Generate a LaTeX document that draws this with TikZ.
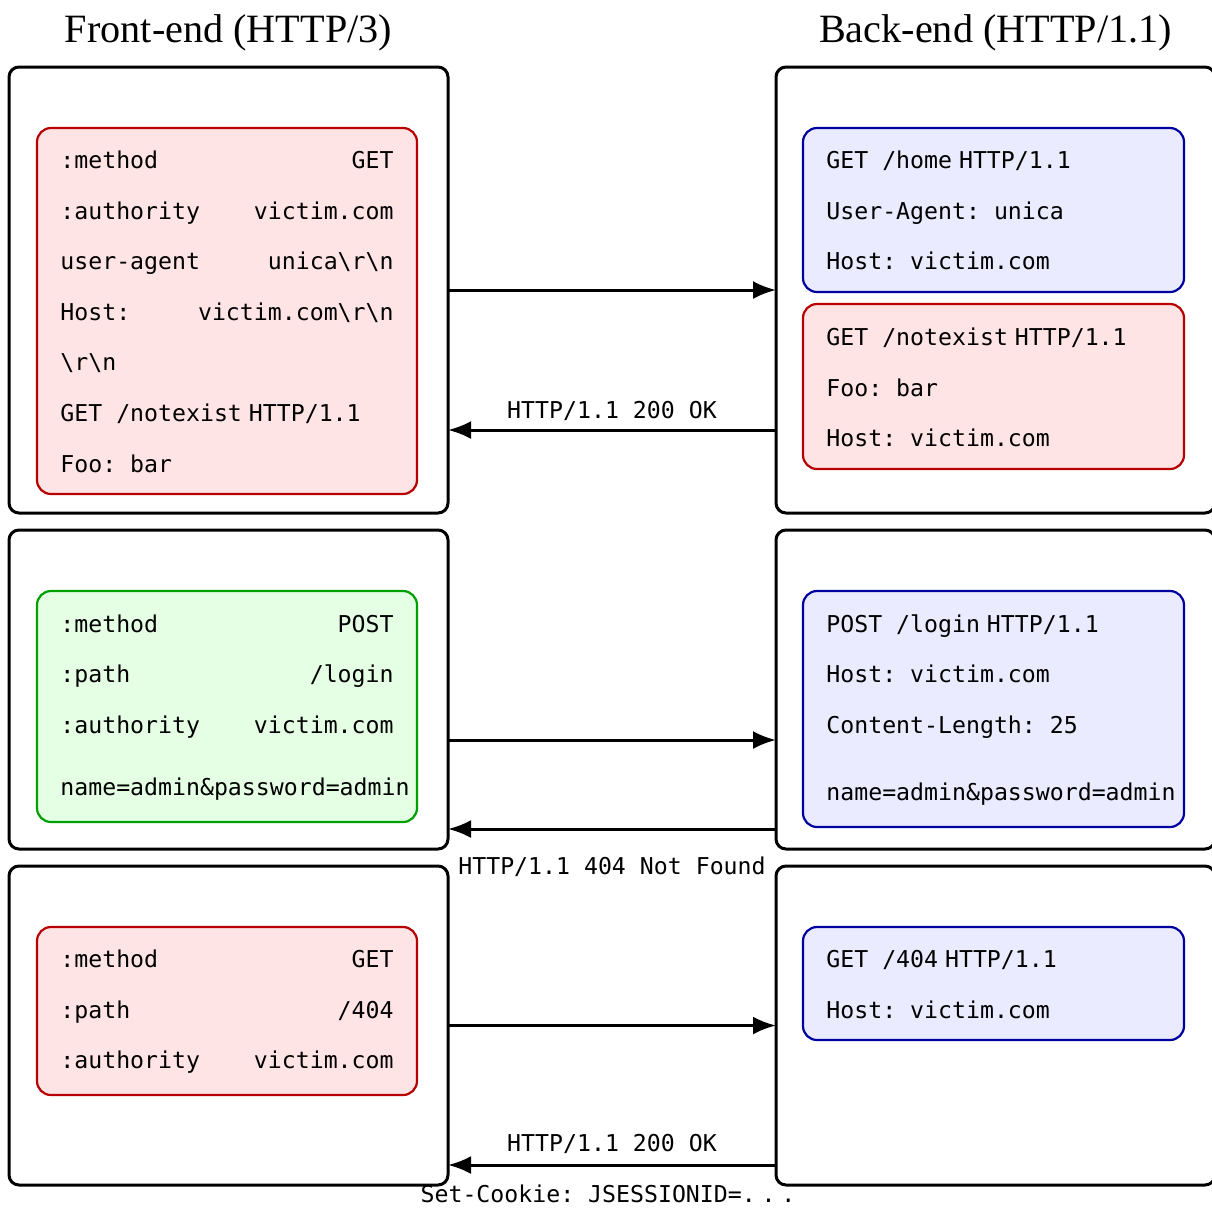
\documentclass[tikz,border=0pt]{standalone}
\usepackage{fontspec}
\setmainfont{Liberation Serif}
\setmonofont{DejaVu Sans Mono}
\usetikzlibrary{arrows.meta}

\definecolor{redfill}{RGB}{255,228,230}
\definecolor{reddraw}{RGB}{185,0,0}
\definecolor{bluefill}{RGB}{235,235,255}
\definecolor{bluedraw}{RGB}{0,0,160}
\definecolor{greenfill}{RGB}{229,255,229}
\definecolor{greendraw}{RGB}{0,160,0}

% narrow gap used before the protocol version in request lines
\newcommand\vgap{\hspace{0.3em}}
\newcommand\bs{\textbackslash}

\begin{document}
\begin{tikzpicture}[x=0.5pt,y=-0.5pt,
  panel/.style={draw=black,line width=1.5pt,rounded corners=5pt,
    minimum width=219.5pt,inner sep=0pt,outer sep=0pt},
  msg/.style={line width=1.1pt,rounded corners=7pt,inner sep=0pt,outer sep=0pt},
  redmsg/.style={msg,draw=reddraw,fill=redfill},
  bluemsg/.style={msg,draw=bluedraw,fill=bluefill},
  greenmsg/.style={msg,draw=greendraw,fill=greenfill},
  hdr/.style={font=\fontsize{20.1}{24}\selectfont,anchor=base,inner sep=0pt},
  code/.style={font=\fontsize{11.6}{14}\ttfamily,inner sep=0pt},
  lcode/.style={code,anchor=base west},
  rcode/.style={code,anchor=base east},
  mcode/.style={code,anchor=base},
  flow/.style={line width=1.5pt,-{Latex[length=11.5pt,width=9pt]}},
]
\useasboundingbox (0,0) rectangle (1212,1207);

% column headings
\node[hdr] (hfe) at (228.5,42) {Front-end (HTTP/3)};
\node[hdr] (hbe) at (995.5,42) {Back-end (HTTP/1.1)};

% panels
\node[panel,minimum height=223pt]   (fe1) at (228.5,290) {};
\node[panel,minimum height=223pt]   (be1) at (995.5,290) {};
\node[panel,minimum height=159.5pt] (fe2) at (228.5,689.5) {};
\node[panel,minimum height=159.5pt] (be2) at (995.5,689.5) {};
\node[panel,minimum height=159.5pt] (fe3) at (228.5,1025.5) {};
\node[panel,minimum height=159.5pt] (be3) at (995.5,1025.5) {};

% messages, first exchange
\node[redmsg,minimum width=190pt,minimum height=183pt] (m1) at (227,311) {};
\node[lcode] (m1a) at (60,168) {:method};
\node[rcode] (m1b) at (394,168) {GET};
\node[lcode] (m1c) at (60,219) {:authority};
\node[rcode] (m1d) at (394,219) {victim.com};
\node[lcode] (m1e) at (60,269) {user-agent};
\node[rcode] (m1f) at (394,269) {unica\bs r\bs n};
\node[lcode] (m1g) at (60,320) {Host:};
\node[rcode] (m1h) at (394,320) {victim.com\bs r\bs n};
\node[lcode] (m1i) at (60,370) {\bs r\bs n};
\node[lcode] (m1j) at (60,421) {GET /notexist\vgap HTTP/1.1};
\node[lcode] (m1k) at (60,472) {Foo: bar};

\node[bluemsg,minimum width=190.5pt,minimum height=82pt] (b1) at (993.5,210) {};
\node[lcode] (b1a) at (826,168) {GET /home\vgap HTTP/1.1};
\node[lcode] (b1b) at (826,219) {User-Agent: unica};
\node[lcode] (b1c) at (826,269) {Host: victim.com};

\node[redmsg,minimum width=190.5pt,minimum height=82.5pt] (b2) at (993.5,386.5) {};
\node[lcode] (b2a) at (826,345) {GET /notexist\vgap HTTP/1.1};
\node[lcode] (b2b) at (826,396) {Foo: bar};
\node[lcode] (b2c) at (826,446) {Host: victim.com};

% messages, second exchange
\node[greenmsg,minimum width=190pt,minimum height=115.5pt] (m2) at (227,706.5) {};
\node[lcode] (m2a) at (60,632) {:method};
\node[rcode] (m2b) at (394,632) {POST};
\node[lcode] (m2c) at (60,682) {:path};
\node[rcode] (m2d) at (394,682) {/login};
\node[lcode] (m2e) at (60,733) {:authority};
\node[rcode] (m2f) at (394,733) {victim.com};
\node[lcode] (m2g) at (60,795) {name=admin\&password=admin};

\node[bluemsg,minimum width=190.5pt,minimum height=118pt] (b3) at (993.5,709) {};
\node[lcode] (b3a) at (826,632) {POST /login\vgap HTTP/1.1};
\node[lcode] (b3b) at (826,682) {Host: victim.com};
\node[lcode] (b3c) at (826,733) {Content-Length: 25};
\node[lcode] (b3d) at (826,800) {name=admin\&password=admin};

% messages, third exchange
\node[redmsg,minimum width=190pt,minimum height=84pt] (m3) at (227,1011) {};
\node[lcode] (m3a) at (60,967) {:method};
\node[rcode] (m3b) at (394,967) {GET};
\node[lcode] (m3c) at (60,1018) {:path};
\node[rcode] (m3d) at (394,1018) {/404};
\node[lcode] (m3e) at (60,1068) {:authority};
\node[rcode] (m3f) at (394,1068) {victim.com};

\node[bluemsg,minimum width=190.5pt,minimum height=56.5pt] (b4) at (993.5,983.5) {};
\node[lcode] (b4a) at (826,967) {GET /404\vgap HTTP/1.1};
\node[lcode] (b4b) at (826,1018) {Host: victim.com};

% requests forwarded and responses returned
\draw[flow] (fe1.east) -- (be1.west);
\draw[flow] ([yshift=-70pt]be1.west) -- ([yshift=-70pt]fe1.east);
\node[mcode] (r1) at (612,418) {HTTP/1.1 200 OK};

\draw[flow] ([yshift=-25.25pt]fe2.east) -- ([yshift=-25.25pt]be2.west);
\draw[flow] ([yshift=-69.75pt]be2.west) -- ([yshift=-69.75pt]fe2.east);
\node[mcode] (r2) at (612,874) {HTTP/1.1 404 Not Found};

\draw[flow] (fe3.east) -- (be3.west);
\draw[flow] ([yshift=-69.75pt]be3.west) -- ([yshift=-69.75pt]fe3.east);
\node[mcode] (r3) at (612,1151) {HTTP/1.1 200 OK};
\node[mcode] (r4) at (608,1202) {Set-Cookie: JSESSIONID=.\kern0.25em.\kern0.25em.};
\end{tikzpicture}
\end{document}
